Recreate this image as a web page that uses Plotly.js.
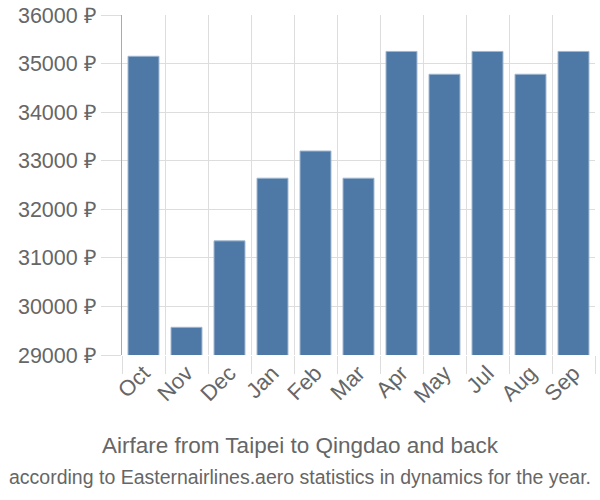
<!DOCTYPE html>
<html>
<head>
<meta charset="utf-8">
<script src="https://cdn.plot.ly/plotly-3.0.1.min.js"></script>
<style>html,body{margin:0;padding:0;background:#fff}#chart{width:600px;height:500px}</style>
</head>
<body>
<div id="chart"></div>
<script>
const months = ["Oct","Nov","Dec","Jan","Feb","Mar","Apr","May","Jul","Aug","Sep"];
const prices = [35150, 29570, 31350, 32640, 33200, 32640, 35250, 34780, 35250, 34780, 35250];
const yTicks = [29000, 30000, 31000, 32000, 33000, 34000, 35000, 36000];
const titleText = "Airfare from Taipei to Qingdao and back";
const subtitleText = "according to Easternairlines.aero statistics in dynamics for the year.";

const trace = {
  type: "bar",
  x: months,
  y: prices,
  marker: {color: "#4e79a7", line: {color: "#9fb6cf", width: 1}},
  hoverinfo: "none"
};

const plotLeft = 122, plotWidth = 473, plotBottom = 355, plotHeight = 340;
const cx = (300 - plotLeft) / plotWidth;

const layout = {
  width: 600, height: 500,
  margin: {l: 122, r: 5, t: 15, b: 145},
  paper_bgcolor: "#fff", plot_bgcolor: "#fff",
  font: {family: "Liberation Sans, Arial, sans-serif", color: "#666"},
  bargap: 0.28,
  showlegend: false,
  xaxis: {
    type: "category",
    tickson: "boundaries",
    showgrid: true, gridcolor: "#dddddd", gridwidth: 1,
    ticks: "outside", ticklen: 18, tickcolor: "#dddddd",
    tickangle: -45,
    tickfont: {size: 22, color: "#666"},
    showline: false, zeroline: false
  },
  yaxis: {
    range: [29000, 36000],
    tickvals: yTicks,
    ticktext: yTicks.map(v => v + " ₽"),
    showgrid: true, gridcolor: "#dddddd", gridwidth: 1,
    ticks: "outside", ticklen: 20, tickcolor: "#dddddd",
    tickfont: {size: 21.5, color: "#666"},
    showline: true, linecolor: "#aaaaaa", linewidth: 1,
    zeroline: false
  },
  annotations: [
    {text: titleText, xref: "paper", yref: "paper", x: cx, xanchor: "center",
     y: -(445 - plotBottom) / plotHeight, yanchor: "middle", showarrow: false,
     font: {size: 22.5, color: "#666"}},
    {text: subtitleText, xref: "paper", yref: "paper", x: cx, xanchor: "center",
     y: -(477 - plotBottom) / plotHeight, yanchor: "middle", showarrow: false,
     font: {size: 19.5, color: "#666"}}
  ]
};

Plotly.newPlot("chart", [trace], layout, {displayModeBar: false, staticPlot: true});
</script>
</body>
</html>
